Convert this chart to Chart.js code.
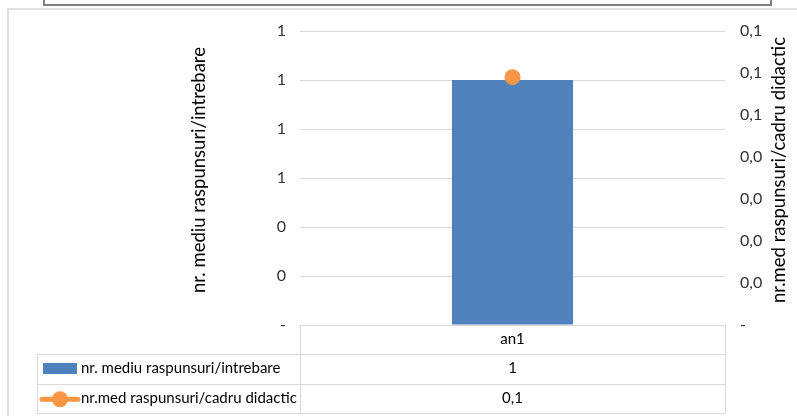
<!DOCTYPE html>
<html><head><meta charset="utf-8">
<script src="https://cdn.jsdelivr.net/npm/chart.js@4.4.1/dist/chart.umd.min.js"></script>
<style>html,body{margin:0;padding:0;background:#fff;}#wrap{width:797px;height:416px;position:relative}canvas{display:block}</style>
</head><body><div id="wrap"><canvas id="c" width="797" height="416"></canvas></div>
<script>
const categories = ['an1'];
const barSeriesName = 'nr. mediu raspunsuri/intrebare';
const lineSeriesName = 'nr.med raspunsuri/cadru didactic';
const barValues = [1];
const lineValues = [0.059];
const leftTickLabels = ['-', '0', '0', '1', '1', '1', '1'];
const rightTickLabels = ['-', '0,0', '0,0', '0,0', '0,0', '0,1', '0,1', '0,1'];

const FONT = 'Lato, "Liberation Sans", sans-serif';
const BAR_COLOR = '#4F81BD';
const LINE_COLOR = '#F79646';
const GRID = '#d9d9d9';

const fmtBar = v => String(Math.round(v));
const fmtLine = v => v.toFixed(1).replace('.', ',');

const decor = {
  id: 'decor',
  beforeDraw(chart) {
    const ctx = chart.ctx;
    ctx.save();
    ctx.fillStyle = '#fff';
    ctx.fillRect(0, 0, chart.width, chart.height);
    ctx.strokeStyle = GRID; ctx.lineWidth = 1.5;
    ctx.beginPath();
    ctx.moveTo(8, 416); ctx.lineTo(8, 9); ctx.lineTo(797, 9);
    ctx.stroke();
    ctx.strokeStyle = '#7f7f7f'; ctx.lineWidth = 2;
    ctx.strokeRect(44, -10, 727, 15);
    ctx.restore();
  },
  afterDraw(chart) {
    const ctx = chart.ctx;
    const area = chart.chartArea;
    const xs = chart.scales.x;
    const rowTop = area.bottom;
    const rows = [rowTop, rowTop + 28.5, rowTop + 58.5, rowTop + 88];
    const tableLeft = 37;
    ctx.save();
    ctx.strokeStyle = GRID; ctx.lineWidth = 1;
    ctx.beginPath();
    ctx.moveTo(area.left, rows[0] + 0.5); ctx.lineTo(area.right, rows[0] + 0.5);
    for (let r = 1; r < rows.length; r++) {
      ctx.moveTo(tableLeft, Math.round(rows[r]) + 0.5); ctx.lineTo(area.right, Math.round(rows[r]) + 0.5);
    }
    ctx.moveTo(tableLeft + 0.5, Math.round(rows[1])); ctx.lineTo(tableLeft + 0.5, Math.round(rows[3]) + 1);
    const colW = (area.right - area.left) / categories.length;
    for (let i = 0; i <= categories.length; i++) {
      const x = Math.round(area.left + i * colW) + 0.5;
      ctx.moveTo(x, rows[0]); ctx.lineTo(x, Math.round(rows[3]) + 1);
    }
    ctx.stroke();

    ctx.fillStyle = '#000';
    ctx.font = '15px ' + FONT;
    ctx.textBaseline = 'middle';
    ctx.textAlign = 'center';
    categories.forEach((c, i) => {
      const cx = xs.getPixelForValue(i);
      ctx.fillText(c, cx, (rows[0] + rows[1]) / 2);
      ctx.fillText(fmtBar(barValues[i]), cx, (rows[1] + rows[2]) / 2);
      ctx.fillText(fmtLine(lineValues[i]), cx, (rows[2] + rows[3]) / 2);
    });
    ctx.textAlign = 'left';
    const y2 = (rows[1] + rows[2]) / 2, y3 = (rows[2] + rows[3]) / 2;
    ctx.fillStyle = BAR_COLOR;
    ctx.fillRect(43, y2 - 5.5, 34, 11);
    ctx.strokeStyle = LINE_COLOR; ctx.lineWidth = 5; ctx.lineCap = 'round';
    ctx.beginPath(); ctx.moveTo(42, y3 + 1); ctx.lineTo(78, y3 + 1); ctx.stroke();
    ctx.fillStyle = LINE_COLOR;
    ctx.beginPath(); ctx.arc(60, y3 + 1, 8, 0, Math.PI * 2); ctx.fill();
    ctx.fillStyle = '#000';
    ctx.fillText(barSeriesName, 81, y2);
    ctx.fillText(lineSeriesName, 81, y3);

    // axis titles, both reading bottom to top
    const titles = [[barSeriesName, 199], [lineSeriesName, 779]];
    titles.forEach(([t, x]) => {
      ctx.save();
      ctx.translate(x, 170);
      ctx.rotate(-Math.PI / 2);
      ctx.textAlign = 'center';
      ctx.font = '18.5px ' + FONT;
      ctx.fillText(t, 0, 0);
      ctx.restore();
    });
    ctx.restore();
  }
};

new Chart(document.getElementById('c'), {
  type: 'bar',
  data: {
    labels: categories,
    datasets: [
      { type: 'line', label: lineSeriesName, data: lineValues, yAxisID: 'y1',
        borderColor: LINE_COLOR, backgroundColor: LINE_COLOR, borderWidth: 3,
        pointRadius: 8, pointHoverRadius: 8, pointBorderWidth: 0, order: 0 },
      { type: 'bar', label: barSeriesName, data: barValues, yAxisID: 'y',
        backgroundColor: BAR_COLOR, barPercentage: 0.285, categoryPercentage: 1, order: 1 }
    ]
  },
  options: {
    responsive: false, animation: false, devicePixelRatio: 1,
    layout: { padding: { left: 0, right: 0, top: 31, bottom: 91 } },
    plugins: { legend: { display: false }, tooltip: { enabled: false } },
    scales: {
      x: { display: false },
      y: {
        position: 'left', min: 0, max: 1.2,
        ticks: { stepSize: 0.2, padding: 14, color: '#333', font: { family: FONT, size: 16 },
          callback: (v, i) => leftTickLabels[i] },
        grid: { color: GRID, drawTicks: false, lineWidth: 1 },
        border: { display: false },
        afterFit(s) { s.width = 300; s.paddingTop = 0; s.paddingBottom = 0; }
      },
      y1: {
        position: 'right', min: 0, max: 0.07,
        ticks: { stepSize: 0.01, padding: 15, color: '#333', font: { family: FONT, size: 16 },
          callback: (v, i) => rightTickLabels[i] },
        grid: { display: false, drawTicks: false },
        border: { display: false },
        afterFit(s) { s.width = 72; s.paddingTop = 0; s.paddingBottom = 0; }
      }
    }
  },
  plugins: [decor]
});
</script>
</body></html>
